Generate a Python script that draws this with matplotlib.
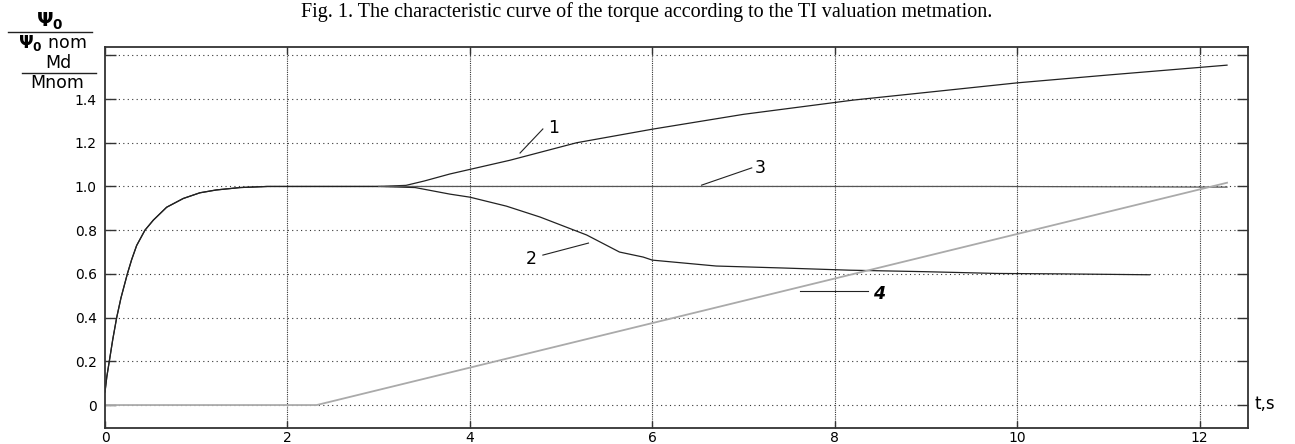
import matplotlib
matplotlib.use("Agg")
import matplotlib.pyplot as plt
from matplotlib.lines import Line2D

# ---- data ----
t_start = [0, 0.02, 0.047, 0.085, 0.128, 0.175, 0.245, 0.292, 0.347, 0.438, 0.53, 0.676,
           0.858, 1.04, 1.22, 1.48, 1.78, 2.0, 2.5, 3.0]
v_start = [0.06, 0.13, 0.2, 0.3, 0.4, 0.49, 0.6, 0.665, 0.73, 0.8, 0.846, 0.905,
           0.945, 0.971, 0.984, 0.995, 1.0, 1.0, 1.0, 1.0]

t_curve1 = [3.3, 3.5, 3.78, 4.0, 4.44, 5.17, 6.0, 7.0, 8.2, 9.0, 10.0, 11.0, 12.3]
v_curve1 = [1.005, 1.025, 1.057, 1.078, 1.12, 1.20, 1.262, 1.33, 1.395, 1.43, 1.474, 1.51, 1.555]

t_curve2 = [3.4, 3.78, 4.0, 4.4, 4.77, 5.28, 5.64, 5.9, 6.0, 6.7, 7.43, 8.16, 9.0, 9.78, 10.5, 11.45]
v_curve2 = [0.995, 0.965, 0.951, 0.91, 0.86, 0.778, 0.70, 0.677, 0.663, 0.636, 0.627, 0.617, 0.61, 0.602, 0.60, 0.596]

t_curve3 = [3.0, 9.7, 12.3]
v_curve3 = [1.0, 1.0, 0.997]

t_curve4 = [0, 2.32, 12.3]
v_curve4 = [0, 0, 1.017]

x_ticks = [0, 2, 4, 6, 8, 10, 12]
y_ticks = [0, 0.2, 0.4, 0.6, 0.8, 1.0, 1.2, 1.4, 1.6]
y_tick_labels = ["0", "0.2", "0.4", "0.6", "0.8", "1.0", "1.2", "1.4", ""]

fig = plt.figure(figsize=(12.95, 4.44), dpi=100)
ax = fig.add_axes([105/1295, 1-428/444, (1248-105)/1295, (428-47)/444])

ax.plot(t_start + t_curve1, v_start + v_curve1, color="#222222", lw=0.9)
ax.plot(t_start + t_curve2, v_start + v_curve2, color="#222222", lw=0.9)
ax.plot(t_curve3, v_curve3, color="#555555", lw=0.9)
ax.plot(t_curve4, v_curve4, color="#aaaaaa", lw=1.3)

ax.set_xlim(0, 12.53)
ax.set_ylim(-0.105, 1.638)
ax.set_xticks(x_ticks)
ax.set_yticks(y_ticks)
ax.set_yticklabels(y_tick_labels)

for lab in ax.get_xticklabels() + ax.get_yticklabels():
    lab.set_fontsize(10)
    lab.set_family("DejaVu Sans")
    lab.set_weight("medium")

ax.tick_params(axis="y", direction="in", length=8, width=1, color="#333333",
               right=True, left=True, pad=6)
ax.tick_params(axis="x", direction="in", length=5, width=1, color="#333333",
               top=True, bottom=True, pad=2)

for s in ax.spines.values():
    s.set_color("#333333")
    s.set_linewidth(1.3)

# grid
for y in y_ticks:
    ax.axhline(y, color="#333333", lw=0.8, ls=(0, (1, 3)), zorder=0)
for x in x_ticks[1:]:
    ax.axvline(x, color="#333333", lw=0.8, ls=(0, (1, 1)), zorder=0)

# annotations
fs_num = 12.5
ax.plot([4.55, 4.80], [1.153, 1.263], color="#222222", lw=0.8)
ax.text(4.86, 1.267, "1", fontsize=fs_num, ha="left", va="center")
ax.plot([6.54, 7.09], [1.006, 1.085], color="#222222", lw=0.8)
ax.text(7.12, 1.085, "3", fontsize=fs_num, ha="left", va="center")
ax.plot([4.80, 5.30], [0.686, 0.741], color="#222222", lw=0.8)
ax.text(4.73, 0.668, "2", fontsize=fs_num, ha="right", va="center")
ax.plot([7.62, 8.36], [0.523, 0.523], color="#222222", lw=0.8)
ax.text(8.42, 0.508, "4", fontsize=fs_num, ha="left", va="center", style="italic", weight="bold")

ax.text(1.006, 0.064, "t,s", transform=ax.transAxes, fontsize=12, ha="left", va="center")

# y label fraction
W, H = 1295, 444
def fx(px): return px / W
def fy(py): return 1 - py / H
fig.text(fx(50), fy(21), r"$\mathbf{\Psi_0}$", fontsize=14, ha="center", va="center")
fig.add_artist(Line2D([fx(8), fx(92)], [fy(32), fy(32)], color="#222222", lw=1.0))
fig.text(fx(52), fy(43), r"$\mathbf{\Psi_0}$ nom", fontsize=12.5, ha="center", va="center")
fig.text(fx(58), fy(63), "Md", fontsize=12.5, ha="center", va="center")
fig.add_artist(Line2D([fx(22), fx(96)], [fy(73), fy(73)], color="#222222", lw=1.0))
fig.text(fx(57), fy(83), "Mnom", fontsize=12.5, ha="center", va="center")

# title
fig.text(fx(647), fy(17), "Fig. 1. The characteristic curve of the torque according to the TI valuation metmation.",
         fontsize=14.5, family="Liberation Serif", ha="center", va="baseline")

fig.savefig("out.png", dpi=100)
